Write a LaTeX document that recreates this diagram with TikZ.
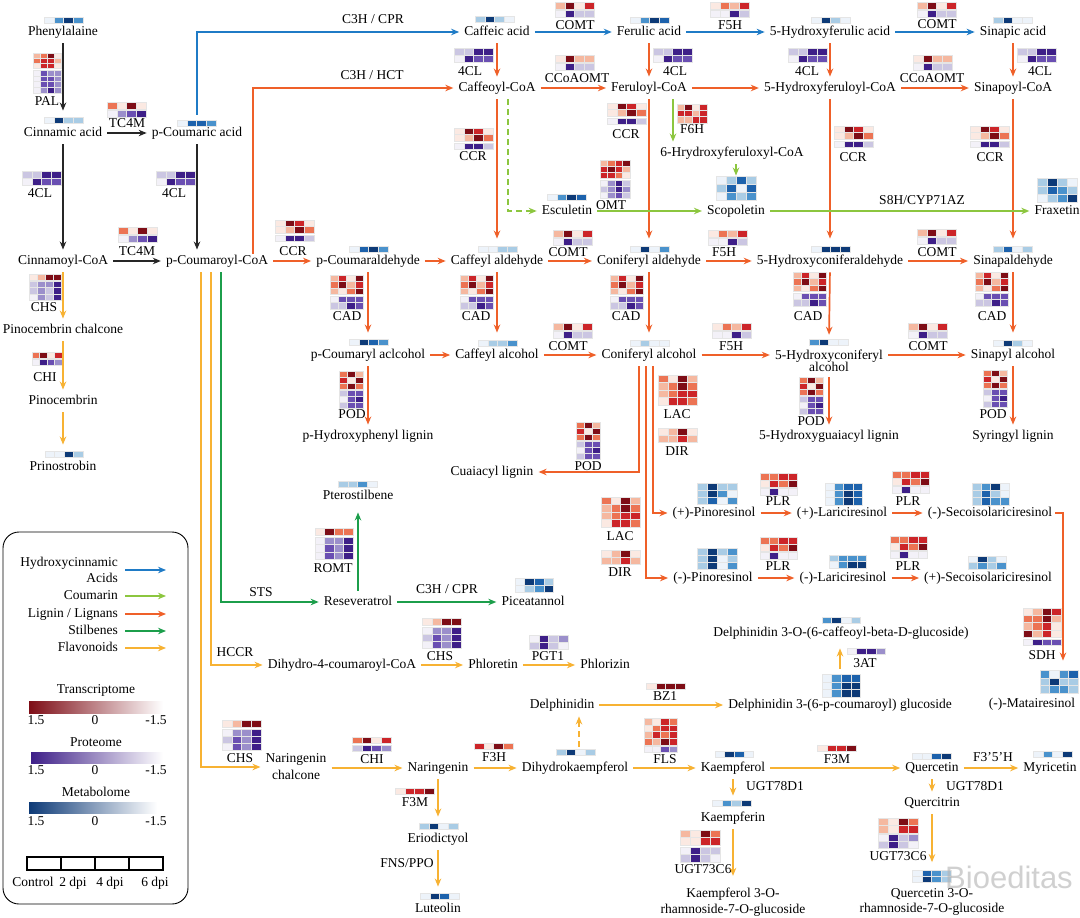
\documentclass[tikz,border=0pt]{standalone}
\usepackage{fontspec}
\setmainfont{Liberation Serif}
\newfontfamily\wmfont{Liberation Sans}
\usetikzlibrary{arrows.meta}
\definecolor{R0}{HTML}{FBE9E2}
\definecolor{R1}{HTML}{F5B8A0}
\definecolor{R2}{HTML}{EC7454}
\definecolor{R3}{HTML}{CC2529}
\definecolor{R4}{HTML}{7E0D16}
\definecolor{P0}{HTML}{F3F1F8}
\definecolor{P1}{HTML}{CBC6E2}
\definecolor{P2}{HTML}{9B8FCB}
\definecolor{P3}{HTML}{6A4FB2}
\definecolor{P4}{HTML}{3E1F88}
\definecolor{B0}{HTML}{EDF3FA}
\definecolor{B1}{HTML}{A9CCE5}
\definecolor{B2}{HTML}{4A92CC}
\definecolor{B3}{HTML}{1D62AC}
\definecolor{B4}{HTML}{0D3A77}
\definecolor{cblue}{HTML}{1F7BC6}
\definecolor{clime}{HTML}{8CC63F}
\definecolor{corange}{HTML}{EF6029}
\definecolor{cgreen}{HTML}{1C9E4B}
\definecolor{cyellow}{HTML}{F7B233}
\newcommand{\fsz}{\fontsize{13.5}{15.5}\selectfont}
\newcommand{\hmap}[5]{%
  \foreach \hmrow [count=\hmi from 0] in {#5}{%
    \foreach \hmc [count=\hmj from 0] in \hmrow {%
      \filldraw[fill=\hmc,draw=black!10,line width=0.3pt] ({#1+\hmj*#3},{#2+\hmi*#4}) rectangle ++(#3,#4);%
    }%
  }%
}
\newcommand{\fourcl}[2]{\hmap{#1}{#2}{9.75}{7}{{P1,P1,P4,P4},{P0,P4,P3,P3}}}
\newcommand{\ccrhm}[2]{\hmap{#1}{#2}{9.75}{6.5}{{R0,R4,R3,R0},{R0,R1,R4,R2}}\hmap{#1}{#2+15}{9.75}{6.5}{{P0,P4,P4,P1}}}
\newcommand{\comthm}[2]{\hmap{#1}{#2}{9.75}{7}{{R1,R4,R0,R3}}\hmap{#1}{#2+8}{9.75}{7}{{P0,P4,P1,P1}}}
\newcommand{\fivehhm}[2]{\hmap{#1}{#2}{9.75}{7}{{R0,R2,R1,R3}}\hmap{#1}{#2+8}{9.75}{7}{{P0,P0,P4,P1}}}
\newcommand{\cadhm}[2]{\hmap{#1}{#2}{8.3}{6.5}{{R1,R3,R0,R4},{R2,R4,R1,R3},{R1,R0,R2,R4}}\hmap{#1}{#2+21}{8.3}{6.5}{{P0,P3,P3,P3},{P1,P1,P4,P3}}}
\newcommand{\podhm}[2]{\hmap{#1}{#2}{8}{6}{{R2,R4,R1},{R3,R0,R4},{R2,R4,R2}}\hmap{#1}{#2+19}{8}{6}{{P1,P3,P3},{P0,P3,P4},{P1,P3,P3}}}
\newcommand{\plrhm}[2]{\hmap{#1}{#2}{9.25}{7}{{R2,R2,R3,R3},{R0,R3,R2,R4}}\hmap{#1}{#2+15}{9.25}{7}{{P0,P4,P0,P0}}}
\newcommand{\lachm}[2]{\hmap{#1}{#2}{9.75}{7.5}{{R2,R0,R4,R1},{R1,R2,R4,R2},{R1,R2,R3,R3},{R0,R3,R3,R2}}}
\newcommand{\dirhm}[2]{\hmap{#1}{#2}{9.75}{7}{{R0,R1,R4,R0},{R1,R1,R3,R1}}}
\newcommand{\chshm}[2]{\hmap{#1}{#2}{9.75}{7}{{R0,R1,R4,R4}}\hmap{#1}{#2+9}{9.75}{7}{{P0,P2,P2,P4},{P1,P3,P2,P4},{P0,P3,P2,P4}}}
\newcommand{\tcfourhm}[2]{\hmap{#1}{#2}{9.75}{7}{{R2,R0,R4,R0}}\hmap{#1}{#2+8.5}{9.75}{6.5}{{P0,P2,P3,P4}}}
\begin{document}
\begin{tikzpicture}[x=1pt,y=-1pt,
  lbl/.style={inner sep=1pt,font=\fsz,text height=9.5pt,text depth=3pt},
  lbl2/.style={inner sep=1pt,font=\fsz,align=center},
  arr/.style={line width=1.7pt,-{Stealth[length=8pt,width=6.5pt]},shorten <=4pt,shorten >=4pt},
  blk/.style={arr,black!85,line width=1.3pt},
  blu/.style={arr,cblue},
  org/.style={arr,corange},
  lim/.style={arr,clime},
  grn/.style={arr,cgreen},
  yel/.style={arr,cyellow},
  dsh/.style={dash pattern=on 6pt off 4pt}]
\fill[white] (0,0) rectangle (1080,918);
\useasboundingbox (0,0) rectangle (1080,918);

% ---------- metabolite heatmaps ----------
\hmap{44}{17}{9.75}{6.5}{{B0,B2,B4,B2}}
\hmap{44}{117}{9.75}{6.5}{{B0,B4,B1,B1}}
\hmap{177}{120}{9.75}{6.5}{{B0,B3,B3,B2}}
\hmap{475}{16}{9.75}{6.5}{{B1,B4,B1,B0}}
\hmap{630}{17}{9.75}{6.5}{{B0,B2,B4,B3}}
\hmap{811}{17}{9.75}{6.5}{{B0,B4,B1,B0}}
\hmap{993}{17}{9.75}{6.5}{{B1,B4,B0,B0}}
\hmap{349}{246}{9.75}{6.5}{{B0,B3,B4,B2}}
\hmap{478}{246}{9.75}{6.5}{{B0,B0,B1,B1}}
\hmap{630}{246}{9.75}{6.5}{{B0,B4,B0,B2}}
\hmap{811}{246}{9.75}{6.5}{{B0,B4,B4,B4}}
\hmap{993}{246}{9.75}{6.5}{{B1,B3,B0,B1}}
\hmap{349}{339}{9.75}{6.5}{{B0,B4,B3,B2}}
\hmap{478}{340}{9.75}{6.5}{{B0,B1,B1,B2}}
\hmap{630}{340}{9.75}{6.5}{{B0,B1,B0,B0}}
\hmap{809}{339}{9.75}{6.5}{{B2,B4,B0,B0}}
\hmap{993}{340}{9.75}{6.5}{{B0,B4,B1,B0}}
\hmap{547}{194}{9.75}{6.5}{{B0,B2,B4,B3}}
\hmap{45}{451}{9.5}{6.5}{{B0,B0,B4,B1}}
\hmap{338}{481}{9.75}{6.5}{{B1,B1,B2,B0}}
\hmap{515}{578}{9.6}{7}{{B0,B4,B3,B1},{B0,B1,B2,B4}}
\hmap{716}{176}{10}{8}{{B0,B1,B3,B1},{B1,B3,B0,B3},{B0,B2,B1,B2}}
\hmap{1037}{178}{10}{8}{{B1,B4,B1,B0},{B1,B3,B2,B1},{B0,B1,B2,B4}}
\hmap{697}{483}{10}{7}{{B1,B4,B1,B1},{B1,B4,B2,B0},{B1,B3,B0,B2}}
\hmap{825}{483}{9.25}{7.3}{{B0,B2,B3,B3},{B0,B2,B4,B3},{B0,B2,B4,B3}}
\hmap{972}{483}{9.25}{7.3}{{B1,B2,B4,B0},{B1,B3,B1,B0},{B1,B3,B2,B2}}
\hmap{697}{548}{10}{7}{{B1,B4,B1,B2},{B1,B4,B0,B1},{B1,B4,B0,B2}}
\hmap{829}{555}{9.25}{6.5}{{B1,B2,B2,B2},{B0,B2,B4,B4}}
\hmap{968}{556}{9.5}{6.5}{{B0,B4,B1,B0},{B1,B2,B1,B2}}
\hmap{1040}{670}{9.5}{7.7}{{B2,B0,B2,B3},{B1,B4,B1,B1},{B1,B2,B2,B1}}
\hmap{822}{617}{9.6}{6.5}{{B2,B4,B0,B1}}
\hmap{822}{674}{9.6}{7.7}{{B0,B2,B3,B3},{B0,B2,B4,B4},{B0,B2,B4,B4}}
\hmap{556}{749}{9.75}{6.5}{{B1,B4,B0,B1}}
\hmap{715}{751}{9.6}{6.5}{{B0,B4,B3,B0}}
\hmap{912}{753}{9.75}{6.5}{{B0,B0,B3,B4}}
\hmap{1033}{751}{9.75}{6.5}{{B0,B2,B0,B4}}
\hmap{712}{800}{9.75}{6.5}{{B0,B2,B1,B4}}
\hmap{419}{823}{9.75}{6.5}{{B1,B4,B0,B1}}
\hmap{420}{893}{9.75}{6.5}{{B0,B4,B3,B0}}
\hmap{912}{870}{9.75}{6}{{B0,B3,B2,B1},{B0,B4,B2,B1}}

% ---------- enzyme heatmaps ----------
\hmap{33}{53}{7}{5}{{R1,R2,R4,R0},{R2,R3,R3,R1},{R0,R3,R3,R0}}
\hmap{33}{70}{7}{5.75}{{P0,P3,P2,P2},{P0,P3,P3,P2},{P0,P3,P3,P2},{P0,P2,P4,P2}}
\tcfourhm{107}{102}
\tcfourhm{118}{227}
\fourcl{22}{171}
\fourcl{156}{171}
\fourcl{454}{48}
\fourcl{653}{48}
\fourcl{788}{48}
\fourcl{1017}{48}
\comthm{555}{2}
\fivehhm{710}{2}
\comthm{917}{2}
\hmap{555}{55}{9.75}{7}{{R0,R4,R1,R1}}\hmap{555}{63}{9.75}{7}{{P0,P4,P1,P1}}
\hmap{913}{55}{9.75}{7}{{R0,R4,R1,R1}}\hmap{913}{63}{9.75}{7}{{P0,P4,P1,P1}}
\ccrhm{275}{220}
\ccrhm{454}{128}
\ccrhm{607}{103}
\ccrhm{834}{126}
\ccrhm{970}{126}
\hmap{677}{104}{7.5}{6.3}{{R1,R4,R0,R3},{R3,R3,R1,R3},{R1,R1,R3,R3}}
\hmap{600}{160}{7.5}{6}{{R1,R2,R3,R4},{R3,R4,R3,R1},{R3,R3,R2,R0}}
\hmap{600}{180}{7.5}{6}{{P0,P2,P4,P1},{P1,P2,P4,P2},{P0,P2,P3,P1}}
\comthm{553}{230}
\fivehhm{708}{230}
\comthm{917}{229}
\comthm{553}{323}
\fivehhm{712}{323}
\comthm{908}{323}
\cadhm{330}{275}
\cadhm{460}{275}
\cadhm{610}{275}
\cadhm{793}{272}
\cadhm{975}{272}
\podhm{339}{371}
\podhm{799}{377}
\podhm{983}{370}
\podhm{576}{422}
\lachm{658}{375}
\dirhm{658}{428}
\lachm{601}{497}
\dirhm{601}{550}
\plrhm{760}{473}
\plrhm{892}{471}
\plrhm{760}{537}
\plrhm{890}{536}
\hmap{315}{528}{9.5}{7}{{R0,R4,R2,R2}}
\hmap{315}{537}{9.5}{7.5}{{P0,P2,P2,P4},{P0,P3,P2,P4},{P0,P3,P2,P4}}
\chshm{422}{618}
\chshm{222}{720}
\hmap{529}{635}{9.75}{7}{{P0,P4,P1,P2},{P1,P4,P1,P0}}
\hmap{29}{274}{8}{6.5}{{R0,R1,R4,R4}}
\hmap{29}{281}{8}{6.5}{{P1,P2,P2,P4},{P1,P2,P1,P4},{P0,P2,P1,P4}}
\hmap{32}{352}{7.5}{6.5}{{R2,R4,R0,R3}}
\hmap{32}{359}{7.5}{6.5}{{P0,P4,P3,P2}}
\hmap{352}{737}{9.75}{6.5}{{R2,R4,R0,R3}}
\hmap{352}{745}{9.75}{6.5}{{P1,P4,P3,P2}}
\hmap{474}{743}{9.75}{6.5}{{R3,R0,R4,R2}}
\hmap{395}{788}{9.75}{6.5}{{R0,R3,R3,R4}}
\hmap{817}{745}{9.75}{6.5}{{R0,R3,R3,R4}}
\hmap{644}{718}{8.3}{6.75}{{R1,R0,R3,R2},{R0,R2,R3,R3},{R1,R3,R2,R3},{R2,R1,R4,R3}}
\hmap{644}{746}{8.3}{6.5}{{P0,P0,P3,P2}}
\hmap{646}{683}{9.75}{6.5}{{R0,R4,R4,R4}}
\hmap{847}{648}{9.6}{6.5}{{P0,P4,P4,P2}}
\hmap{1023}{608}{9.5}{7.25}{{R0,R1,R4,R3},{R2,R2,R4,R1},{R1,R2,R3,R0},{R4,R1,R3,R0}}
\hmap{1023}{639}{9.5}{6.5}{{P0,P4,P3,P3}}
\hmap{680}{830}{10}{7.5}{{R1,R0,R4,R2},{R0,R0,R3,R3}}
\hmap{680}{847}{10}{7.5}{{P0,P4,P1,P1},{P1,P4,P1,P0}}
\hmap{878}{818}{10}{7.5}{{R1,R0,R4,R2},{R1,R0,R3,R3}}
\hmap{878}{834}{10}{7}{{P0,P4,P1,P2},{P1,P4,P1,P0}}

% ---------- compound nodes ----------
\node[lbl] (phe) at (63,32) {Phenylalaine};
\node[lbl] (cin) at (63,133) {Cinnamic acid};
\node[lbl] (pca) at (197,133) {p-Coumaric acid};
\node[lbl] (cinc) at (63,261) {Cinnamoyl-CoA};
\node[lbl] (pcc) at (217,261) {p-Coumaroyl-CoA};
\node[lbl] (caf) at (497,32) {Caffeic acid};
\node[lbl] (fer) at (649,32) {Ferulic acid};
\node[lbl] (hfa) at (830,32) {5-Hydroxyferulic acid};
\node[lbl] (sia) at (1013,32) {Sinapic acid};
\node[lbl] (cafc) at (497,88) {Caffeoyl-CoA};
\node[lbl] (ferc) at (649,88) {Feruloyl-CoA};
\node[lbl] (hfc) at (830,88) {5-Hydroxyferuloyl-CoA};
\node[lbl] (sic) at (1013,88) {Sinapoyl-CoA};
\node[lbl] (hxc) at (732,153) {6-Hrydroxyferuloxyl-CoA};
\node[lbl] (esc) at (567,211) {Esculetin};
\node[lbl] (sco) at (736,211) {Scopoletin};
\node[lbl] (fra) at (1057,211) {Fraxetin};
\node[lbl] (pcald) at (368,261) {p-Coumaraldehyde};
\node[lbl] (cald) at (497,261) {Caffeyl aldehyde};
\node[lbl] (conald) at (649,261) {Coniferyl aldehyde};
\node[lbl] (hcald) at (830,261) {5-Hydroxyconiferaldehyde};
\node[lbl] (sald) at (1013,261) {Sinapaldehyde};
\node[lbl] (pcalc) at (368,355) {p-Coumaryl aclcohol};
\node[lbl] (calc) at (497,355) {Caffeyl alcohol};
\node[lbl] (conalc) at (649,355) {Coniferyl alcohol};
\node[lbl2,font=\fontsize{13.5}{12.5}\selectfont] (hcalc) at (829,361) {5-Hydroxyconiferyl\\alcohol};
\node[lbl] (salc) at (1013,355) {Sinapyl alcohol};
\node[lbl] (phl) at (368,436) {p-Hydroxyphenyl lignin};
\node[lbl] (hgl) at (829,436) {5-Hydroxyguaiacyl lignin};
\node[lbl] (syl) at (1013,436) {Syringyl lignin};
\node[lbl] (cul) at (492,472) {Cuaiacyl lignin};
\node[lbl] (pcch) at (63,330) {Pinocembrin chalcone};
\node[lbl] (pcb) at (63,401) {Pinocembrin};
\node[lbl] (pst) at (63,467) {Prinostrobin};
\node[lbl] (pter) at (358,496) {Pterostilbene};
\node[lbl] (ppin) at (714,513) {(+)-Pinoresinol};
\node[lbl] (plar) at (842,513) {(+)-Lariciresinol};
\node[lbl] (mseco) at (990,513) {(-)-Secoisolariciresinol};
\node[lbl] (mpin) at (713,578) {(-)-Pinoresinol};
\node[lbl] (mlar) at (843,578) {(-)-Lariciresinol};
\node[lbl] (pseco) at (988,578) {(+)-Secoisolariciresinol};
\node[lbl] (resv) at (358,602) {Reseveratrol};
\node[lbl] (pice) at (533,602) {Piceatannol};
\node[lbl] (dcg) at (841,633) {Delphinidin 3-O-(6-caffeoyl-beta-D-glucoside)};
\node[lbl] (dhc) at (342,665) {Dihydro-4-coumaroyl-CoA};
\node[lbl] (phlo) at (493,665) {Phloretin};
\node[lbl] (phlz) at (605,665) {Phlorizin};
\node[lbl] (mat) at (1032,704) {(-)-Matairesinol};
\node[lbl] (del) at (562,705) {Delphinidin};
\node[lbl] (dpc) at (840,705) {Delphinidin 3-(6-p-coumaroyl) glucoside};
\node[lbl2,font=\fontsize{13.5}{17}\selectfont] (nch) at (296,767) {Naringenin\\chalcone};
\node[lbl] (nar) at (438,768) {Naringenin};
\node[lbl] (dhk) at (575,768) {Dihydrokaempferol};
\node[lbl] (kae) at (733,768) {Kaempferol};
\node[lbl] (que) at (932,768) {Quercetin};
\node[lbl] (myr) at (1050,768) {Myricetin};
\node[lbl] (kaf) at (733,818) {Kaempferin};
\node[lbl] (qtr) at (932,803) {Quercitrin};
\node[lbl] (eri) at (438,839) {Eriodictyol};
\node[lbl] (lut) at (438,909) {Luteolin};
\node[lbl2] (k3o) at (733,902) {Kaempferol 3-O-\\rhamnoside-7-O-glucoside};
\node[lbl2] (q3o) at (932,902) {Quercetin 3-O-\\rhamnoside-7-O-glucoside};

% ---------- enzyme labels ----------
\node[lbl] (ePAL) at (47,102) {PAL};
\node[lbl] (eTCa) at (127,124) {TC4M};
\node[lbl] (e4a) at (40,194) {4CL};
\node[lbl] (e4b) at (174,194) {4CL};
\node[lbl] (eTCb) at (137,252) {TC4M};
\node[lbl] (eCHSa) at (44,308) {CHS};
\node[lbl] (eCHIa) at (45,378) {CHI};
\node[lbl] (eC3a) at (373,20) {C3H / CPR};
\node[lbl] (eC3b) at (372,76) {C3H / HCT};
\node[lbl] (eCOa) at (575,26) {COMT};
\node[lbl] (eF5a) at (730,26) {F5H};
\node[lbl] (eCOb) at (937,25) {COMT};
\node[lbl] (e4c) at (470,72) {4CL};
\node[lbl] (e4d) at (675,72) {4CL};
\node[lbl] (e4e) at (807,72) {4CL};
\node[lbl] (e4f) at (1040,72) {4CL};
\node[lbl] (eCCa) at (577,79) {CCoAOMT};
\node[lbl] (eCCb) at (932,79) {CCoAOMT};
\node[lbl] (eCRa) at (473,157) {CCR};
\node[lbl] (eCRb) at (626,135) {CCR};
\node[lbl] (eF6H) at (692,130) {F6H};
\node[lbl] (eCRc) at (853,158) {CCR};
\node[lbl] (eCRd) at (990,158) {CCR};
\node[lbl] (eOMT) at (611,206) {OMT};
\node[lbl] (eS8H) at (922,201) {S8H/CYP71AZ};
\node[lbl] (eCRe) at (293,252) {CCR};
\node[lbl] (eCOc) at (568,253) {COMT};
\node[lbl] (eF5b) at (724,253) {F5H};
\node[lbl] (eCOd) at (937,253) {COMT};
\node[lbl] (eCDa) at (347,317) {CAD};
\node[lbl] (eCDb) at (476,317) {CAD};
\node[lbl] (eCDc) at (626,317) {CAD};
\node[lbl] (eCDd) at (808,317) {CAD};
\node[lbl] (eCDe) at (992,317) {CAD};
\node[lbl] (eCOe) at (568,347) {COMT};
\node[lbl] (eF5c) at (731,347) {F5H};
\node[lbl] (eCOf) at (928,347) {COMT};
\node[lbl] (ePOa) at (352,415) {POD};
\node[lbl] (ePOb) at (811,422) {POD};
\node[lbl] (ePOc) at (993,415) {POD};
\node[lbl] (ePOd) at (588,467) {POD};
\node[lbl] (eLAa) at (677,415) {LAC};
\node[lbl] (eDIa) at (677,452) {DIR};
\node[lbl] (eLAb) at (620,537) {LAC};
\node[lbl] (eDIb) at (620,573) {DIR};
\node[lbl] (ePLa) at (778,502) {PLR};
\node[lbl] (ePLb) at (908,502) {PLR};
\node[lbl] (ePLc) at (778,567) {PLR};
\node[lbl] (ePLd) at (908,567) {PLR};
\node[lbl] (eROMT) at (333,569) {ROMT};
\node[lbl] (eSTS) at (261,593) {STS};
\node[lbl] (eC3c) at (447,590) {C3H / CPR};
\node[lbl] (eHCCR) at (235,653) {HCCR};
\node[lbl] (eCHSb) at (440,657) {CHS};
\node[lbl] (ePGT) at (548,657) {PGT1};
\node[lbl] (e3AT) at (865,664) {3AT};
\node[lbl] (eSDH) at (1042,656) {SDH};
\node[lbl] (eBZ1) at (665,697) {BZ1};
\node[lbl] (eCHSc) at (240,759) {CHS};
\node[lbl] (eCHIb) at (372,760) {CHI};
\node[lbl] (eF3H) at (494,758) {F3H};
\node[lbl] (eFLS) at (665,760) {FLS};
\node[lbl] (eF3Ma) at (837,760) {F3M};
\node[lbl] (eF35) at (993,758) {F3’5’H};
\node[lbl] (eF3Mb) at (415,803) {F3M};
\node[lbl] (eUGa) at (775,787) {UGT78D1};
\node[lbl] (eUGb) at (975,787) {UGT78D1};
\node[lbl] (eFNS) at (407,864) {FNS/PPO};
\node[lbl] (eUTa) at (703,870) {UGT73C6};
\node[lbl] (eUTb) at (898,857) {UGT73C6};

% ---------- black connectors ----------
\draw[blk] (phe.south) -- ([yshift=11pt]cin.north);
\draw[blk] (cin.east) -- (pca.west);
\draw[blk] (cin.south) -- (cinc.north);
\draw[blk] (pca.south) -- (pca.south |- pcc.north);
\draw[blk] (cinc.east) -- (pcc.west);

% ---------- hydroxycinnamic acids (blue) ----------
\coordinate (bS) at ([yshift=11pt]pca.north);
\draw[blu,shorten <=0pt] (bS) |- (caf.west);
\draw[blu] (caf.east) -- (fer.west);
\draw[blu] (fer.east) -- (hfa.west);
\draw[blu] (hfa.east) -- (sia.west);

% ---------- lignin / lignans (orange) ----------
\coordinate (oS) at ([xshift=36pt]pcc.north);
\draw[org,shorten <=0pt] (oS) |- (cafc.west);
\draw[org] (caf.south) -- (cafc.north);
\draw[org] (fer.south) -- (ferc.north);
\draw[org] (hfa.south) -- (hfc.north);
\draw[org] (sia.south) -- (sic.north);
\draw[org] (cafc.east) -- (ferc.west);
\draw[org] (ferc.east) -- (hfc.west);
\draw[org] (hfc.east) -- (sic.west);
\draw[org] (cafc.south) -- ([yshift=11pt]cald.north);
\draw[org] (ferc.south) -- ([yshift=11pt]conald.north);
\draw[org] (hfc.south) -- ([yshift=11pt]hcald.north);
\draw[org] (sic.south) -- ([yshift=11pt]sald.north);
\draw[org] (pcc.east) -- (pcald.west);
\draw[org] (pcald.east) -- (cald.west);
\draw[org] (cald.east) -- (conald.west);
\draw[org] (conald.east) -- (hcald.west);
\draw[org] (hcald.east) -- (sald.west);
\draw[org] (pcald.south) -- ([yshift=11pt]pcalc.north);
\draw[org] (cald.south) -- ([yshift=11pt]calc.north);
\draw[org] (conald.south) -- ([yshift=11pt]conalc.north);
\draw[org] (hcald.south) -- ([yshift=10pt]hcalc.north);
\draw[org] (sald.south) -- ([yshift=11pt]salc.north);
\draw[org] (pcalc.east) -- (calc.west);
\draw[org] (calc.east) -- (conalc.west);
\draw[org] (conalc.east) -- (conalc.east -| hcalc.west);
\draw[org] (hcalc.east |- salc.west) -- (salc.west);
\draw[org] (pcalc.south) -- (phl.north);
\draw[org] (hcalc.south) -- (hgl.north);
\draw[org] (salc.south) -- (syl.north);
\coordinate (ca1) at ([xshift=-10pt]conalc.south);
\coordinate (ca2) at ([xshift=-3pt]conalc.south);
\coordinate (ca3) at ([xshift=4pt]conalc.south);
\draw[org] (ca1) |- (cul.east);
\draw[org] (ca2) |- (mpin.west);
\draw[org] (ca3) |- (ppin.west);
\draw[org] (ppin.east) -- (plar.west);
\draw[org] (plar.east) -- (mseco.west);
\draw[org] (mpin.east) -- (mlar.west);
\draw[org] (mlar.east) -- (pseco.west);
\draw[org,shorten <=2pt] (mseco.east) -| ([xshift=31pt,yshift=32pt]mat.north);

% ---------- coumarin (lime) ----------
\coordinate (dS) at ([xshift=11pt]cafc.south);
\draw[lim,dsh] (dS) |- (esc.west);
\coordinate (fS) at ([xshift=24pt]ferc.south);
\draw[lim] (fS) -- (fS |- hxc.north);
\draw[lim] (sco.north |- hxc.south) -- ([yshift=24pt]sco.north);
\draw[lim] (esc.east) -- (sco.west);
\draw[lim] (sco.east) -- (fra.west);

% ---------- stilbenes (green) ----------
\coordinate (gS) at ([xshift=4pt]pcc.south);
\draw[grn] (gS) |- (resv.west);
\draw[grn,shorten >=9pt] (resv.north) -- (pter.south);
\draw[grn] (resv.east) -- (pice.west);

% ---------- flavonoids (yellow) ----------
\draw[yel] (cinc.south) -- (pcch.north);
\draw[yel] (pcch.south) -- (pcb.north);
\draw[yel] (pcb.south) -- ([yshift=11pt]pst.north);
\coordinate (yS1) at ([xshift=-6pt]pcc.south);
\coordinate (yS2) at ([xshift=-16pt]pcc.south);
\draw[yel] (yS1) |- (dhc.west);
\draw[yel] (yS2) |- (nch.west);
\draw[yel] (dhc.east) -- (phlo.west);
\draw[yel] (phlo.east) -- (phlz.west);
\draw[yel] (nch.east |- nar.west) -- (nar.west);
\draw[yel] (nar.east) -- (dhk.west);
\draw[yel] (dhk.east) -- (kae.west);
\draw[yel] (kae.east) -- (que.west);
\draw[yel] (que.east) -- (myr.west);
\draw[yel] (nar.south) -- ([yshift=11pt]eri.north);
\draw[yel] (eri.south) -- ([yshift=11pt]lut.north);
\coordinate (dk) at ([xshift=4pt,yshift=14pt]dhk.north);
\draw[yel,dsh,shorten <=0pt] (dk) -- (dk |- del.south);
\draw[yel] (del.east) -- (dpc.west);
\coordinate (dp) at ([yshift=29pt]dpc.north);
\draw[yel,shorten <=0pt,shorten >=8pt] (dp) -- (dp |- dcg.south);
\draw[yel] (kae.south) -- ([yshift=11pt]kaf.north);
\draw[yel] (que.south) -- (qtr.north);
\draw[yel] (kaf.south) -- ([yshift=7pt]k3o.north);
\draw[yel] (qtr.south) -- ([yshift=21pt]q3o.north);

% ---------- legend ----------
\draw[line width=0.9pt,rounded corners=16pt] (3,532) rectangle (188,904);
\node[lbl2,anchor=east,align=right,font=\fontsize{13.5}{16.5}\selectfont] (lgA) at (119,570) {Hydroxycinnamic\\Acids};
\node[lbl,anchor=east] (lgB) at (119,596) {Coumarin};
\node[lbl,anchor=east] (lgC) at (119,614) {Lignin / Lignans};
\node[lbl,anchor=east] (lgD) at (119,631) {Stilbenes};
\node[lbl,anchor=east] (lgE) at (119,648) {Flavonoids};
\draw[blu,shorten <=0pt,shorten >=0pt] ([xshift=6pt]lgA.east) -- ([xshift=47pt]lgA.east);
\draw[lim,shorten <=0pt,shorten >=0pt] ([xshift=6pt]lgB.east) -- ([xshift=47pt]lgB.east);
\draw[org,shorten <=0pt,shorten >=0pt] ([xshift=6pt]lgC.east) -- ([xshift=47pt]lgC.east);
\draw[grn,shorten <=0pt,shorten >=0pt] ([xshift=6pt]lgD.east) -- ([xshift=47pt]lgD.east);
\draw[yel,shorten <=0pt,shorten >=0pt] ([xshift=6pt]lgE.east) -- ([xshift=47pt]lgE.east);
\node[lbl] (lgT) at (96,690) {Transcriptome};
\shade[left color=R4, middle color=R2!85!R3, right color=white] (29,701) rectangle (163,713);
\node[lbl] (lgT1) at (36,721) {1.5};
\node[lbl] (lgT2) at (95,721) {0};
\node[lbl] (lgT3) at (156,721) {-1.5};
\node[lbl] (lgP) at (96,743) {Proteome};
\shade[left color=P4, middle color=P2!80!P1, right color=white] (31,752) rectangle (163,763);
\node[lbl] (lgP1) at (36,771) {1.5};
\node[lbl] (lgP2) at (95,771) {0};
\node[lbl] (lgP3) at (156,771) {-1.5};
\node[lbl] (lgM) at (96,793) {Metabolome};
\shade[left color=B4, middle color=B2!70!B1, right color=white] (29,802) rectangle (157,813);
\node[lbl] (lgM1) at (36,822) {1.5};
\node[lbl] (lgM2) at (95,822) {0};
\node[lbl] (lgM3) at (156,822) {-1.5};
\draw[line width=1.3pt] (27,857) rectangle (163,870);
\foreach \xx in {61,95,129} \draw[line width=1.3pt] (\xx,857) -- (\xx,870);
\node[lbl] (lgC0) at (33,883) {Control};
\node[lbl] (lgC2) at (73,883) {2 dpi};
\node[lbl] (lgC4) at (110,883) {4 dpi};
\node[lbl] (lgC6) at (155,883) {6 dpi};

% ---------- watermark ----------
\node[inner sep=0pt,font=\wmfont\fontsize{31}{31}\selectfont,text=black!30,opacity=0.6] (wm) at (1009,877) {Bioeditas};
\end{tikzpicture}
\end{document}
